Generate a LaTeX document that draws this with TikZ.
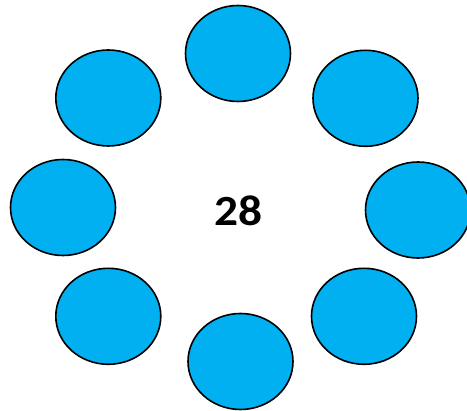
\documentclass[tikz,border=0pt]{standalone}
\usepackage{fontspec}
\setmainfont{Carlito}
\usetikzlibrary{shapes.geometric}
\definecolor{discblue}{HTML}{00B0F0}

\begin{document}
\begin{tikzpicture}[x=1pt,y=-1pt,
  every node/.style={inner sep=0pt},
  disc/.style={ellipse,draw=black,line width=1.6pt,fill=discblue,
    minimum width=105pt,minimum height=96pt}]
\useasboundingbox (0,0) rectangle (467,411);
\node[disc] (top) at (238,53.5) {};
\node[disc] (topright) at (365.5,98.3) {};
\node[disc] (right) at (418,210) {};
\node[disc] (bottomright) at (364,316.3) {};
\node[disc] (bottom) at (240.5,361.5) {};
\node[disc] (bottomleft) at (108.3,316.3) {};
\node[disc] (left) at (63,207.5) {};
\node[disc] (topleft) at (108.3,98) {};
\node[font=\fontsize{43}{43}\selectfont\bfseries,xscale=1.1] (count) at (238.5,211) {28};
\end{tikzpicture}
\end{document}
